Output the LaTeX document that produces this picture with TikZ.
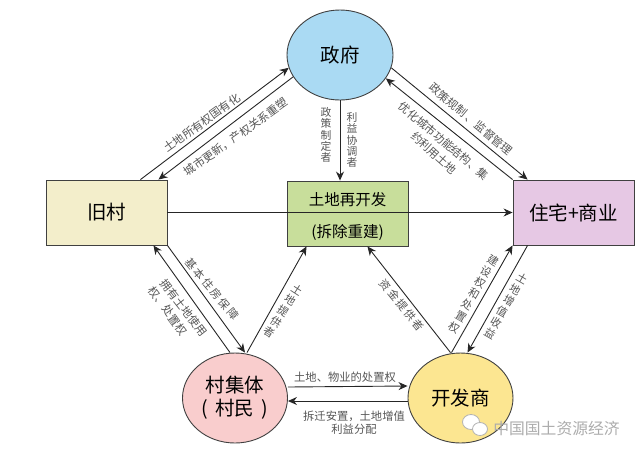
\documentclass[tikz,border=0pt]{standalone}
\usepackage{fontspec}
\setmainfont{Noto Sans CJK SC}
\newfontfamily\widefont[LetterSpace=18]{Noto Sans CJK SC}
\usetikzlibrary{arrows.meta,calc,positioning,shapes.geometric}
\definecolor{govblue}{RGB}{170,218,243}
\definecolor{oldyellow}{RGB}{243,238,203}
\definecolor{midgreen}{RGB}{200,222,155}
\definecolor{housepurple}{RGB}{230,200,228}
\definecolor{vilpink}{RGB}{249,205,205}
\definecolor{devyellow}{RGB}{252,230,145}
\definecolor{inkgray}{RGB}{85,85,85}
\begin{document}
\begin{tikzpicture}[x=1pt,y=-1pt,
    box/.style={rectangle, draw=black!75, line width=0.9pt, inner sep=0pt, minimum width=121pt, minimum height=65pt, font=\fontsize{19.5}{23}\selectfont},
    party/.style={ellipse, draw=black!75, line width=0.9pt, inner sep=0pt, align=center, minimum width=105pt, minimum height=90pt, font=\fontsize{19.5}{23}\selectfont},
    arrow/.style={-{Stealth[length=9pt,width=8pt]}, line width=0.9pt, draw=black!85},
    lab/.style={font=\fontsize{11.3}{13}\selectfont, text=inkgray, align=center, inner sep=0pt},
    stack/.style={lab, font=\fontsize{11}{12.8}\selectfont},
    bubble/.style={ellipse, draw=gray!60, line width=0.8pt, fill=white, inner sep=0pt}]
    \useasboundingbox (0,0) rectangle (640,456);
    \node[party, fill=govblue, minimum width=106pt] (gov) at (340,55) {政府};
    \node[box, fill=oldyellow] (old) at (106.5,212.5) {旧村};
    \node[box, fill=midgreen, align=center, font=\fontsize{15.5}{32}\selectfont] (mid) at (347.5,213.5) {\rule{0pt}{20pt}土地再开发\\(拆除重建)};
    \node[box, fill=housepurple] (house) at (573.5,212.5) {住宅+商业};
    \node[party, fill=vilpink] (vil) at (235,398) {村集体\\(\hspace{7pt}村民\hspace{7pt})};
    \node[party, fill=devyellow] (dev) at (460.5,398) {开发商};

    \draw[arrow] (old.east) -- (house.west);
    \draw[arrow] ([xshift=-27pt]old.north east) -- (gov.194);
    \draw[arrow] (gov.205) -- ([xshift=-9pt]old.north east);
    \draw[arrow] (gov.south) -- (gov.south |- mid.north);
    \draw[arrow] (gov.-14) -- ([xshift=15pt]house.north west);
    \draw[arrow] (house.north west) -- (gov.-27);
    \draw[arrow] ([xshift=-5pt]vil.north) -- ([xshift=-14pt]old.south east);
    \draw[arrow] (old.south east) -- ([xshift=10pt]vil.north);
    \draw[arrow] ([xshift=12pt]vil.north) -- ([xshift=20pt]mid.south west);
    \draw[arrow] ([xshift=-10pt]dev.north) -- ([xshift=-41pt]mid.south east);
    \draw[arrow] ([xshift=-9pt]dev.north) -- (house.south west);
    \draw[arrow] ([xshift=15pt]house.south west) -- ([xshift=7pt]dev.north);
    \draw[arrow] ([yshift=11pt]vil.east) -- ([yshift=12pt]dev.west);
    \draw[arrow] ([yshift=-3pt]dev.west) -- ([yshift=-3pt]vil.east);

    \node[lab, rotate=35.5] (ownlab) at (202,123) {土地所有权国有化};
    \node[lab, rotate=35.5] (renewlab) at (236,137) {城市更新，产权关系重塑};
    \node[stack, font=\fontsize{10.8}{11.4}\selectfont] (policylab) at (326,135) {政\\策\\制\\定\\者};
    \node[stack, font=\fontsize{10.8}{11.4}\selectfont] (balancelab) at (352,140) {利\\益\\协\\调\\者};
    \node[lab, rotate=-40] (regulab) at (471,119) {政策规制 、监督管理};
    \node[lab, rotate=-40] (optilab) at (444,141) {优化城市功能结构、集};
    \node[lab, rotate=-42] (savelab) at (434,153) {约利用土地};
    \node[lab, rotate=-50, font=\widefont\fontsize{11}{13}\selectfont] (houselab) at (212,289) {基本住房保障};
    \node[lab, rotate=-52] (uselab) at (184,308) {拥有土地使用};
    \node[lab, rotate=-54] (disposelab) at (168,311) {权、处置权};
    \node[stack, rotate=-33] (landlab) at (283,311) {土\\地\\提\\供\\者};
    \node[lab, rotate=-51, font=\widefont\fontsize{11}{13}\selectfont] (fundlab) at (402,305) {资金提供者};
    \node[stack, rotate=-30] (buildlab) at (474,294) {建\\设\\权\\和\\处\\置\\权};
    \node[stack, rotate=-30] (gainlab) at (506,306) {土\\地\\增\\值\\收\\益};
    \node[lab] (saleslab) at (345,377) {土地、物业的处置权};
    \node[lab] (movelab) at (354,422.5) {拆迁安置，土地增值\\利益分配};

    \node[bubble, minimum width=17pt, minimum height=15pt] (chatback) at (471,422) {};
    \node[bubble, minimum width=15pt, minimum height=13pt] (chatfront) at (480,429) {};
    \node[font=\fontsize{15.8}{18}\selectfont, text=gray!65, inner sep=0pt] (marklab) at (556.5,428) {中国国土资源经济};
\end{tikzpicture}
\end{document}
